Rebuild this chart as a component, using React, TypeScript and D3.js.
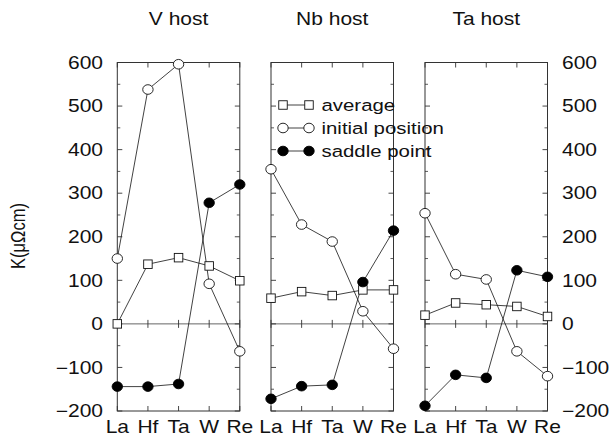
import React from "react";
import * as d3 from "d3";

const elements = ["La", "Hf", "Ta", "W", "Re"];
const hosts = ["V host", "Nb host", "Ta host"];

const averageV = [0, 137, 152, 133, 99];
const initialV = [150, 538, 596, 92, -63];
const saddleV = [-144, -144, -138, 278, 320];

const averageNb = [59, 74, 65, 78, 78];
const initialNb = [355, 228, 189, 29, -57];
const saddleNb = [-172, -143, -140, 96, 214];

const averageTa = [20, 48, 44, 40, 17];
const initialTa = [254, 114, 102, -63, -120];
const saddleTa = [-188, -117, -124, 123, 108];

const yTicks = [-200, -100, 0, 100, 200, 300, 400, 500, 600];
const yMinorTicks = [-150, -50, 50, 150, 250, 350, 450, 550];
const seriesNames = ["average", "initial position", "saddle point"];

const panelData = [
  [averageV, initialV, saddleV],
  [averageNb, initialNb, saddleNb],
  [averageTa, initialTa, saddleTa],
];

const W = 611;
const H = 438;
const panelLefts = [117.3, 271, 425];
const panelW = 122.5;
const top = 62.5;
const bottom = 411;
const FONT = "'Liberation Sans', Arial, Helvetica, sans-serif";
const SX = 1.2;
const FS = 17.5;

function T({ x, y, anchor = "start", size = FS, children }: any) {
  return (
    <text
      transform={`translate(${x},${y}) scale(${SX},1)`}
      textAnchor={anchor}
      fontSize={size}
      fontFamily={FONT}
      fill="#111"
    >
      {children}
    </text>
  );
}

function Marker({ kind, x, y }: { kind: number; x: number; y: number }) {
  if (kind === 0) {
    const s = 8.5;
    return (
      <rect x={x - s / 2} y={y - s / 2} width={s} height={s} fill="#fff" stroke="#111" strokeWidth={0.9} />
    );
  }
  if (kind === 1) {
    return <ellipse cx={x} cy={y} rx={5.2} ry={4.8} fill="#fff" stroke="#111" strokeWidth={0.9} />;
  }
  return <ellipse cx={x} cy={y} rx={5.2} ry={4.8} fill="#000" stroke="#000" strokeWidth={0.9} />;
}

export default function App() {
  const y = d3.scaleLinear().domain([-200, 600]).range([bottom, top]);
  const xIn = d3.scalePoint<string>().domain(elements).range([0, panelW]);
  const line = d3
    .line<number>()
    .x((_, i) => xIn(elements[i]) as number)
    .y((d) => y(d));

  const fmt = (v: number) => (v < 0 ? "\u2212" + Math.abs(v) : String(v));

  return (
    <svg width={W} height={H} style={{ position: "absolute", left: 0, top: 0, background: "#fff" }}>
      {panelLefts.map((px, pi) => (
        <g key={pi} transform={`translate(${px},0)`}>
          <T x={panelW / 2} y={25} anchor="middle" size={FS}>
            {hosts[pi]}
          </T>
          <line x1={0} x2={panelW} y1={y(0)} y2={y(0)} stroke="#555" strokeWidth={0.9} />
          <rect x={0} y={top} width={panelW} height={bottom - top} fill="none" stroke="#333" strokeWidth={1} />
          {yTicks.map((t) => (
            <g key={"t" + t}>
              <line x1={0} x2={5} y1={y(t)} y2={y(t)} stroke="#333" strokeWidth={0.9} />
              <line x1={panelW - 5} x2={panelW} y1={y(t)} y2={y(t)} stroke="#333" strokeWidth={0.9} />
            </g>
          ))}
          {yMinorTicks.map((t) => (
            <g key={"m" + t}>
              <line x1={0} x2={3} y1={y(t)} y2={y(t)} stroke="#333" strokeWidth={0.8} />
              <line x1={panelW - 3} x2={panelW} y1={y(t)} y2={y(t)} stroke="#333" strokeWidth={0.8} />
            </g>
          ))}
          {elements.map((e) => {
            const xx = xIn(e) as number;
            return (
              <g key={"x" + e}>
                <line x1={xx} x2={xx} y1={top} y2={top + 5} stroke="#333" strokeWidth={0.9} />
                <line x1={xx} x2={xx} y1={bottom} y2={bottom - 5} stroke="#333" strokeWidth={0.9} />
                <line x1={xx} x2={xx} y1={y(0) - 4} y2={y(0) + 4} stroke="#333" strokeWidth={0.9} />
                <T x={xx} y={433} anchor="middle">
                  {e}
                </T>
              </g>
            );
          })}
          {panelData[pi].map((vals, si) => (
            <path key={"l" + si} d={line(vals) as string} fill="none" stroke="#111" strokeWidth={0.8} />
          ))}
          {panelData[pi].map((vals, si) =>
            vals.map((v, i) => <Marker key={"p" + si + "-" + i} kind={si} x={xIn(elements[i]) as number} y={y(v)} />)
          )}
        </g>
      ))}

      {yTicks.map((t) => (
        <T key={"ll" + t} x={103} y={y(t) + 6.2} anchor="end">
          {fmt(t)}
        </T>
      ))}
      {yTicks.map((t) => (
        <T key={"rl" + t} x={562} y={y(t) + 6.2} anchor="start">
          {fmt(t)}
        </T>
      ))}

      <text
        transform={`translate(25,236) scale(${SX},1) rotate(-90)`}
        textAnchor="middle"
        fontSize={16.5}
        fontFamily={FONT}
        fill="#111"
      >
        K(μΩcm)
      </text>

      {seriesNames.map((n, i) => {
        const ly = 105 + i * 23;
        return (
          <g key={"lg" + i}>
            <line x1={283} x2={309} y1={ly} y2={ly} stroke="#111" strokeWidth={0.8} />
            <Marker kind={i} x={283} y={ly} />
            <Marker kind={i} x={309} y={ly} />
            <T x={321.5} y={ly + 6} anchor="start" size={17}>
              {n}
            </T>
          </g>
        );
      })}
    </svg>
  );
}
